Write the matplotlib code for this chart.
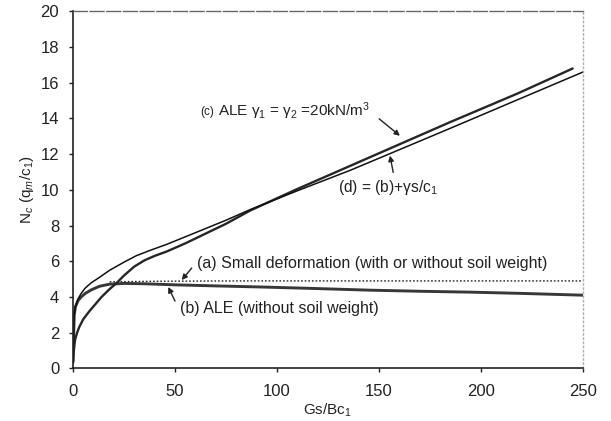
import numpy as np
import matplotlib
matplotlib.use("Agg")
import matplotlib.pyplot as plt

plt.rcParams['font.family'] = ['Liberation Sans', 'DejaVu Sans']
plt.rcParams['mathtext.fontset'] = 'custom'
plt.rcParams['mathtext.rm'] = 'Liberation Sans'
plt.rcParams['mathtext.it'] = 'Liberation Sans:italic'

# (a) small deformation, with or without soil weight
a_x = [18, 40, 80, 120, 160, 200, 250]
a_y = [4.85, 4.88, 4.9, 4.9, 4.9, 4.9, 4.9]

# (b) ALE, no soil weight
b_x = [0, 0.2, 0.6, 1.2, 2.5, 4, 6, 9, 13, 18, 25, 35, 50, 70, 92, 120, 146, 170, 195, 220, 250]
b_y = [0.4, 1.5, 3.0, 3.45, 3.8, 4.0, 4.2, 4.4, 4.6, 4.72, 4.76, 4.74, 4.68, 4.62, 4.56, 4.47, 4.38, 4.32, 4.27, 4.2, 4.1]

# (c) ALE with gamma1 = gamma2 = 20 kN/m3
c_x = [0, 0.3, 1, 2, 3, 5, 8, 11, 14, 18, 21, 25, 30, 35, 40, 46, 55, 65, 75, 87, 110, 136, 160, 185, 218, 245]
c_y = [0.3, 0.9, 1.6, 2.0, 2.3, 2.75, 3.2, 3.6, 4.0, 4.45, 4.74, 5.2, 5.7, 6.05, 6.3, 6.55, 7.0, 7.55, 8.1, 8.85, 10.05, 11.35, 12.55, 13.8, 15.4, 16.8]

# (d) = (b) + gamma*s/c1
d_x = [0, 0.2, 0.6, 1.2, 2.5, 4, 6, 9, 13, 18, 25, 31, 38, 46, 60, 75, 87, 110, 136, 160, 185, 218, 250]
d_y = [0.4, 1.5, 3.0, 3.5, 3.9, 4.2, 4.5, 4.8, 5.1, 5.5, 5.95, 6.31, 6.62, 6.95, 7.6, 8.3, 8.9, 9.95, 11.1, 12.25, 13.45, 15.05, 16.6]

x_ticks = [0, 50, 100, 150, 200, 250]
y_ticks = [0, 2, 4, 6, 8, 10, 12, 14, 16, 18, 20]

fig = plt.figure(figsize=(6.11, 4.21), dpi=100)
ax = fig.add_axes([0.1195, 0.125, 0.8345, 0.848])

ax.plot(a_x, a_y, color='#222222', lw=1.0, linestyle=(0, (1.2, 1.4)))
ax.plot(b_x, b_y, color='#383838', lw=2.1, solid_capstyle='round')
ax.plot(c_x, c_y, color='#262626', lw=1.7, solid_capstyle='round')
ax.plot(d_x, d_y, color='#111111', lw=1.1)

ax.set_xlim(0, 250)
ax.set_ylim(0, 20)
ax.set_xticks(x_ticks)
ax.set_yticks(y_ticks)
ax.tick_params(axis='both', direction='out', length=3, width=1, labelsize=12,
               color='#222222', labelcolor='#222222')
ax.tick_params(axis='x', pad=8)
ax.tick_params(axis='y', pad=7)

for side in ['left', 'bottom']:
    ax.spines[side].set_color('#222222')
    ax.spines[side].set_linewidth(1.2)
ax.spines['top'].set_color('#666666')
ax.spines['top'].set_linewidth(1.0)
ax.spines['top'].set_linestyle((0, (10, 2)))
ax.spines['right'].set_color('#b0b0b0')
ax.spines['right'].set_linewidth(1.0)
ax.spines['right'].set_linestyle((0, (1, 2)))

ax.set_xlabel(r'Gs/Bc$_1$', fontsize=11, labelpad=2, color='#222222')
ax.set_ylabel(r'N$_c$ (q$_m$/c$_1$)', fontsize=11, labelpad=3, color='#222222')

arrow = dict(arrowstyle='-|>', color='#222222', lw=1.0, mutation_scale=8,
             shrinkA=0, shrinkB=0)

# curve labels with pointer arrows
ax.text(62.3, 14.38, '(c)', fontsize=8.5, va='center', ha='left', color='#222222')
ax.text(71.0, 14.38, r'ALE γ$_1$ = γ$_2$ =20kN/m$^3$', fontsize=11,
        va='center', ha='left', color='#222222')
ax.annotate('', xy=(160.3, 13.03), xytext=(150.1, 13.98), arrowprops=arrow)

ax.text(129.9, 10.12, r'(d) = (b)+γs/c$_1$', fontsize=11.2, va='center',
        ha='left', color='#222222')
ax.annotate('', xy=(155.4, 11.92), xytext=(157.0, 10.98), arrowprops=arrow)

ax.text(60.6, 5.9, '(a) Small deformation (with or without soil weight)',
        fontsize=11.5, va='center', ha='left', color='#222222')
ax.annotate('', xy=(53.3, 4.95), xytext=(58.2, 5.62), arrowprops=arrow)

ax.text(52.5, 3.36, '(b) ALE (without soil weight)', fontsize=11.5,
        va='center', ha='left', color='#222222')
ax.annotate('', xy=(46.7, 4.56), xytext=(50.0, 3.77), arrowprops=arrow)

fig.savefig('out.png', dpi=100, facecolor='white')
